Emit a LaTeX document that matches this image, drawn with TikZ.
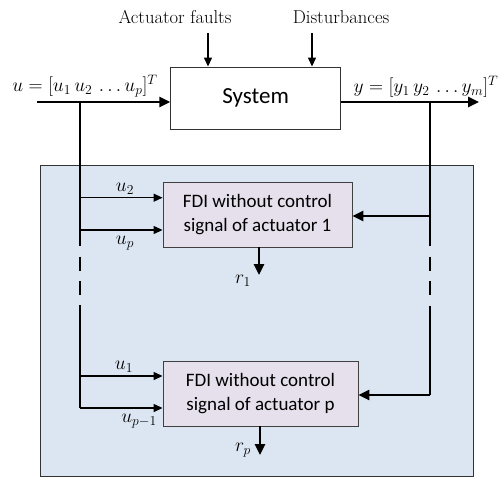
\documentclass[tikz,border=0pt]{standalone}
\usepackage{fix-cm}
\usepackage{fontspec}
\newfontfamily\calfont{Carlito}
\usetikzlibrary{arrows.meta}
\definecolor{panelblue}{HTML}{DCE6F2}
\definecolor{lav}{HTML}{E6E0EC}
\begin{document}
\begin{tikzpicture}[x=1pt,y=-1pt,
  thickline/.style={line width=2.6pt},
  thinline/.style={line width=1.3pt},
  bigtip/.style={-{Triangle[length=11pt,width=10pt]}},
  smalltip/.style={-{Triangle[length=9pt,width=8pt]}},
  dashpart/.style={thickline, dash pattern=on 14pt off 10.5pt},
  fdibox/.style={draw=black!75, line width=0.9pt, fill=lav, inner sep=0pt,
    minimum height=65pt, align=center, font=\calfont\fontsize{19}{24}\selectfont},
  lbl/.style={inner sep=0pt, font=\fontsize{19.5}{22}\selectfont},
  toplbl/.style={inner sep=0pt, font=\fontsize{18.6}{22}\selectfont}]
\useasboundingbox (0,0) rectangle (502,477);

% panel
\node[draw=black!80, fill=panelblue, line width=1pt, minimum width=433pt,
  minimum height=311pt, anchor=north west, inner sep=0pt] (panel) at (40,165) {};

% system
\node[draw=black!80, fill=white, line width=0.9pt, minimum width=170pt,
  minimum height=62pt, inner sep=0pt, font=\calfont\fontsize{23}{26}\selectfont]
  (sys) at (255.7,98) {System};

% top labels
\node[toplbl] (af) at (175,17) {Actuator faults};
\node[toplbl] (dist) at (341,17) {Disturbances};
\coordinate (afs) at (208,33);
\coordinate (dis) at (312,33);
\draw[thinline, smalltip] (afs) -- (afs |- sys.north);
\draw[thinline, smalltip] (dis) -- (dis |- sys.north);

% input / output
\coordinate (uin) at (37,102);
\coordinate (yout) at (479,102);
\draw[thickline, bigtip] (uin) -- (uin -| sys.west);
\draw[thickline, bigtip] (sys.east |- yout) -- (yout);
\node[lbl] (ulab) at (85,86.5) {$u=[u_1\,u_2\,\ldots u_p]^T$};
\node[lbl] (ylab) at (426,86.5) {$y=[y_1\,y_2\,\ldots y_m]^T$};

% FDI boxes
\node[fdibox, minimum width=189pt] (fdi1) at (257.5,214.5) {FDI without control\\signal of actuator 1};
\node[fdibox, minimum width=195pt] (fdi2) at (260.5,393.5) {FDI without control\\signal of actuator p};

% left bus
\coordinate (lt) at (80,102);
\coordinate (l1) at (80,232);
\coordinate (l2) at (80,305);
\coordinate (lb) at (80,408);
\draw[thickline] (lt) -- (l1);
\draw[dashpart] (l1) -- (l2);
\draw[thickline] (l2) -- (lb);

% right bus
\coordinate (rt) at (430,102);
\coordinate (r1c) at (430,232);
\coordinate (r2c) at (430,306);
\coordinate (rb) at (430,395);
\draw[thickline] (rt) -- (r1c);
\draw[dashpart] (r1c) -- (r2c);
\draw[thickline] (r2c) -- (rb);
\coordinate (ry1) at (430,216);
\draw[thickline, bigtip] (ry1) -- (ry1 -| fdi1.east);
\draw[thickline, bigtip] (rb) -- (rb -| fdi2.east);

% thin input arrows
\coordinate (a1) at (80,197.7);
\coordinate (a2) at (80,230);
\coordinate (a3) at (80,376);
\draw[thinline, smalltip] (a1) -- (a1 -| fdi1.west);
\draw[thinline, smalltip] (a2) -- (a2 -| fdi1.west);
\draw[thinline, smalltip] (a3) -- (a3 -| fdi2.west);
\draw[thinline, smalltip] (lb) -- (lb -| fdi2.west);
\node[lbl] (lu2) at (125,189) {$u_2$};
\node[lbl] (lup) at (125,243) {$u_p$};
\node[lbl] (lu1) at (124,367) {$u_1$};
\node[lbl] (lupm) at (139,421) {$u_{p-1}$};

% residuals
\coordinate (o1) at (259,275);
\coordinate (o2) at (260,455);
\draw[thickline, bigtip] (o1 |- fdi1.south) -- (o1);
\draw[thickline, bigtip] (o2 |- fdi2.south) -- (o2);
\node[lbl] (lr1) at (243,281) {$r_1$};
\node[lbl] (lrp) at (243,450) {$r_p$};
\end{tikzpicture}
\end{document}
